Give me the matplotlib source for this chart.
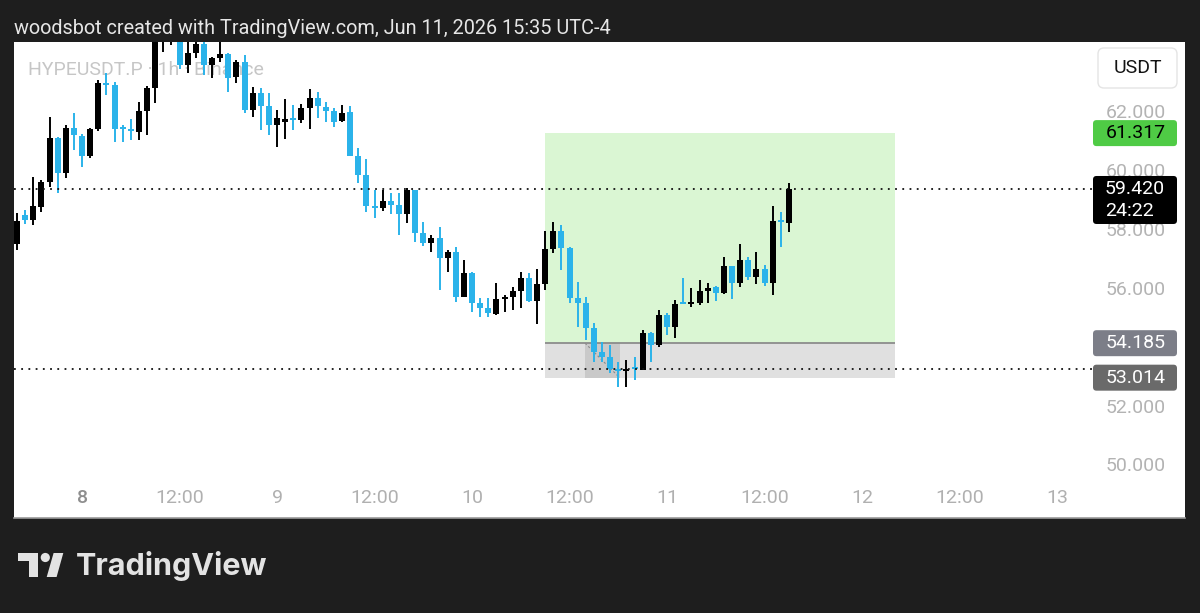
import numpy as np
import pandas as pd
import matplotlib
matplotlib.use("Agg")
import matplotlib.pyplot as plt
import matplotlib.dates as mdates
import matplotlib.transforms as mtransforms
from matplotlib.patches import Rectangle, FancyBboxPatch, Polygon, Circle

plt.rcParams["font.family"] = ["Roboto", "DejaVu Sans"]

# hourly candles, HYPEUSDT.P 1h, starting Jun 7 16:00
start = "2026-06-07 16:00"
opens = [57.55, 58.55, 58.38, 58.81, 59.66, 61.15, 59.96, 61.49, 61.22, 60.54, 61.46, 63.02,
         62.95, 61.50, 61.45, 61.35, 62.07, 62.85, 64.70, 65.20, 65.45, 63.63, 64.04, 64.34,
         63.63, 63.88, 64.00, 63.22, 63.73, 62.10, 62.68, 62.24, 61.59, 61.70, 61.83, 61.76,
         62.17, 62.51, 62.20, 62.07, 61.73, 62.03, 60.54, 59.90, 58.85, 58.78, 59.00, 58.87,
         58.57, 59.38, 57.93, 57.59, 57.76, 57.08, 57.28, 55.75, 56.57, 55.55, 55.38, 55.18,
         55.69, 55.76, 55.96, 56.40, 55.62, 56.19, 57.38, 58.00, 57.42, 55.72, 55.55, 54.70,
         53.88, 53.71, 53.32, 53.25, 53.37, 53.27, 54.53, 54.12, 55.14, 54.73, 55.55, 55.52,
         55.55, 55.96, 56.09, 55.89, 56.80, 56.23, 57.00, 56.43, 56.70, 56.23, 58.33, 58.27]
highs = [58.60, 58.72, 59.83, 59.72, 61.86, 61.20, 61.59, 62.00, 61.30, 61.50, 63.12, 63.36,
         63.05, 61.59, 61.80, 62.37, 62.92, 64.90, 65.50, 65.70, 65.60, 64.60, 64.60, 64.50,
         63.90, 64.50, 64.05, 63.80, 63.97, 62.88, 62.85, 62.68, 62.10, 62.47, 62.27, 62.30,
         62.82, 62.71, 62.37, 62.17, 62.27, 62.24, 60.80, 60.44, 59.38, 59.38, 59.28, 59.28,
         59.45, 59.40, 58.30, 57.86, 58.13, 57.35, 57.45, 57.00, 56.60, 55.72, 55.72, 56.23,
         55.82, 56.09, 56.60, 56.57, 56.70, 58.00, 58.30, 58.20, 57.45, 56.26, 55.76, 54.86,
         54.22, 54.12, 53.54, 53.61, 53.71, 54.63, 54.56, 55.31, 55.21, 55.65, 56.40, 56.06,
         56.33, 56.23, 56.13, 57.11, 56.80, 57.55, 57.11, 57.28, 56.84, 58.84, 58.64, 59.62]
lows = [57.35, 58.22, 58.20, 58.65, 59.49, 59.28, 59.79, 60.74, 60.17, 60.48, 61.40, 62.61,
        61.02, 61.02, 61.08, 61.08, 61.25, 62.34, 64.07, 64.30, 63.50, 63.36, 63.87, 63.29,
        63.19, 63.73, 62.71, 63.02, 62.00, 61.86, 61.42, 61.25, 60.85, 61.12, 61.42, 61.66,
        61.46, 61.83, 61.70, 61.52, 61.70, 60.54, 59.62, 58.64, 58.43, 58.67, 58.57, 57.86,
        58.27, 57.62, 57.48, 57.28, 55.99, 56.60, 55.58, 55.75, 55.24, 55.07, 55.07, 55.14,
        55.24, 55.31, 55.38, 55.58, 54.83, 55.99, 57.25, 56.67, 55.55, 54.73, 54.30, 53.54,
        53.54, 53.17, 52.69, 52.69, 52.93, 53.27, 53.54, 54.05, 54.46, 54.36, 55.50, 55.41,
        55.48, 55.55, 55.62, 55.86, 55.69, 56.09, 56.33, 56.19, 56.13, 55.82, 57.45, 57.96]
closes = [58.35, 58.38, 58.85, 59.66, 61.15, 59.96, 61.49, 61.25, 60.54, 61.46, 63.02, 62.95,
          61.46, 61.44, 61.40, 62.07, 62.85, 64.70, 65.20, 65.45, 63.63, 64.04, 64.34, 63.63,
          63.87, 64.00, 63.19, 63.73, 62.10, 62.68, 62.24, 61.59, 61.83, 61.80, 61.76, 62.17,
          62.51, 62.24, 62.07, 61.70, 62.00, 60.54, 59.90, 58.84, 58.78, 59.00, 58.87, 58.57,
          59.38, 57.93, 57.59, 57.76, 57.08, 57.28, 55.75, 56.57, 55.55, 55.38, 55.21, 55.69,
          55.76, 55.96, 56.40, 55.62, 56.19, 57.38, 57.99, 57.42, 55.72, 55.55, 54.70, 53.88,
          53.71, 53.30, 53.25, 53.30, 53.30, 54.53, 54.12, 55.14, 54.73, 55.51, 55.52, 55.57,
          55.96, 56.06, 55.89, 56.80, 56.23, 57.00, 56.43, 56.70, 56.23, 58.33, 58.30, 59.42]

# long position tool
entry = 54.185
target = 61.317
stop = 53.014
pos_start = "2026-06-10 09:00"
pos_end = "2026-06-12 04:00"
loss_start = "2026-06-10 13:55"
loss_end = "2026-06-10 18:10"

last_price = 59.420
countdown = "24:22"
alert_line = 53.31

price_ticks = [62, 60, 58, 56, 52, 50]
time_tick_start = "2026-06-08 00:00"
time_tick_labels = ["8", "12:00", "9", "12:00", "10", "12:00", "11", "12:00", "12", "12:00", "13"]

UP = "#000000"
DOWN = "#2bb3ea"
BG = "#1e1e1e"
FS = 14  # axis / tag font size

W, H = 1200, 613
fig = plt.figure(figsize=(W / 100, H / 100), dpi=100, facecolor=BG)

# background layer in pixel coords (header, logo)
bg = fig.add_axes([0, 0, 1, 1])
bg.set_xlim(0, W)
bg.set_ylim(H, 0)
bg.axis("off")
bg.text(14, 28, "woodsbot created with TradingView.com, Jun 11, 2026 15:35 UTC-4",
        color="#e6e6e6", fontsize=14.3, va="center", ha="left")
logo_c = "#e3e3e3"
bg.add_patch(Polygon([[18.4, 553], [38.3, 553], [38.3, 577], [28.7, 577], [28.7, 560.5], [18.4, 560.5]],
                     closed=True, fc=logo_c, ec="none"))
bg.add_patch(Circle((45.3, 557.5), 4.6, fc=logo_c, ec="none"))
bg.add_patch(Polygon([[46.7, 577], [56.6, 577], [63.3, 553], [53.6, 553]], closed=True, fc=logo_c, ec="none"))
bg.text(76, 566, "TradingView", color=logo_c, fontsize=22, fontweight="bold", va="center", ha="left",
        family=["Inter", "DejaVu Sans"])

# chart panel
px0, py0, px1, py1 = 14, 42, 1185, 518
ax = fig.add_axes([px0 / W, 1 - py1 / H, (px1 - px0) / W, (py1 - py0) / H])
ax.set_facecolor("white")
for s in ["top", "left", "right"]:
    ax.spines[s].set_visible(False)
ax.spines["bottom"].set_color("#9a9a9a")
ax.spines["bottom"].set_linewidth(1.2)
ax.set_xticks([])
ax.set_yticks([])

ymin, ymax = 48.25, 64.41
ax.set_ylim(ymin, ymax)
day0 = pd.Timestamp(time_tick_start)
ax.set_xlim(mdates.date2num(day0 - pd.Timedelta(hours=8.37)), mdates.date2num(day0 + pd.Timedelta(hours=135.75)))

ppu = (py1 - py0) / (ymax - ymin)   # pixels per price unit
pw = px1 - px0
ph = py1 - py0

times = pd.date_range(start, periods=len(opens), freq="h")
x = mdates.date2num(times)
o = np.array(opens)
c = np.array(closes)
colors = np.where(c >= o, UP, DOWN)

# watermark legend
ax.text(14 / pw, (py1 - 70) / ph, "HYPEUSDT.P · 1h · Binance", transform=ax.transAxes,
        color="#c6c6c6", fontsize=14, va="center", ha="left", zorder=2)

# position tool
xs, xe = mdates.date2num(pd.Timestamp(pos_start)), mdates.date2num(pd.Timestamp(pos_end))
ax.add_patch(Rectangle((xs, entry), xe - xs, target - entry, fc="#daf6d3", ec="none", zorder=1))
ax.add_patch(Rectangle((xs, stop), xe - xs, entry - stop, fc="#e0e0e0", ec="none", zorder=1))
ls, le = mdates.date2num(pd.Timestamp(loss_start)), mdates.date2num(pd.Timestamp(loss_end))
ax.add_patch(Rectangle((ls, stop), le - ls, entry - stop, fc="#c9c9c9", ec="none", zorder=1.2))
ax.plot([ls, le], [entry, stop], color="#8a8a8a", lw=0.8, ls=(0, (2, 2)), zorder=1.3)
ax.hlines(entry, xs, xe, color="#8c8c8c", lw=1.3, zorder=1.5)

# candles
ax.vlines(x, lows, highs, colors=colors, lw=1.4, zorder=3)
ax.bar(x, np.maximum(np.abs(c - o), 0.07), 0.74 / 24, bottom=np.minimum(o, c),
       color=colors, linewidth=0, zorder=3)

# dotted price lines
line_end = (1092 - px0) / pw
ax.axhline(last_price, xmin=0, xmax=line_end, color="#111111", lw=1.3, ls=(0, (1, 3)), zorder=4)
ax.axhline(alert_line, xmin=0, xmax=line_end, color="#111111", lw=1.3, ls=(0, (1, 3)), zorder=4)

# time axis labels
tpos = pd.date_range(time_tick_start, periods=len(time_tick_labels), freq="12h")
tb = mtransforms.blended_transform_factory(ax.transData, ax.transAxes)
for t, lab in zip(tpos, time_tick_labels):
    col = "#8e8e8e" if lab == "8" else "#b0b0b0"
    ax.text(mdates.date2num(t), (py1 - 498) / ph, lab, transform=tb, color=col,
            fontsize=FS, ha="center", va="center", fontweight="medium" if lab == "8" else "normal")

# price scale
pb = mtransforms.blended_transform_factory(ax.transAxes, ax.transData)
label_x = (1136 - px0) / pw
for v in price_ticks:
    ax.text(label_x, v, f"{v:.3f}", transform=pb, color="#b3b3b3", fontsize=FS,
            ha="center", va="center", zorder=5)

# price tags
tag_x0 = (1093 - px0) / pw
tag_w = 84 / pw
aspect = pw / ppu


def tag(top_px, height_px, price, color):
    y0 = price - (height_px - top_px) / ppu
    ax.add_patch(FancyBboxPatch((tag_x0, y0), tag_w, height_px / ppu, transform=pb,
                                boxstyle=f"round,pad=0,rounding_size={3.5 / pw}",
                                mutation_aspect=aspect, fc=color, ec="none", zorder=6, clip_on=False))


tag(13, 26, target, "#4fcb45")
ax.text(label_x, target, f"{target:.3f}", transform=pb, color="#000000", fontsize=FS,
        ha="center", va="center", zorder=7)
tag(13, 48, last_price, "#000000")
ax.text(tag_x0 + 12 / pw, last_price, f"{last_price:.3f}", transform=pb, color="white", fontsize=FS,
        ha="left", va="center", zorder=7)
ax.text(tag_x0 + 12 / pw, last_price - 22 / ppu, countdown, transform=pb, color="white", fontsize=FS,
        ha="left", va="center", zorder=7)
tag(13, 26, entry, "#7c7e88")
ax.text(label_x, entry, f"{entry:.3f}", transform=pb, color="white", fontsize=FS,
        ha="center", va="center", zorder=7)
tag(13, 26, stop, "#6a6a6a")
ax.text(label_x, stop, f"{stop:.3f}", transform=pb, color="white", fontsize=FS,
        ha="center", va="center", zorder=7)

# currency box
ax.add_patch(FancyBboxPatch(((1098 - px0) / pw, (py1 - 88) / ph), 79 / pw, 40 / ph, transform=ax.transAxes,
                            boxstyle=f"round,pad=0,rounding_size={6 / pw}", mutation_aspect=pw / ph,
                            fc="white", ec="#e4e4e4", lw=1, zorder=6))
ax.text((1137.5 - px0) / pw, (py1 - 68) / ph, "USDT", transform=ax.transAxes, color="#131313",
        fontsize=FS, ha="center", va="center", zorder=7)

fig.savefig("out.png", dpi=100, facecolor=BG)
